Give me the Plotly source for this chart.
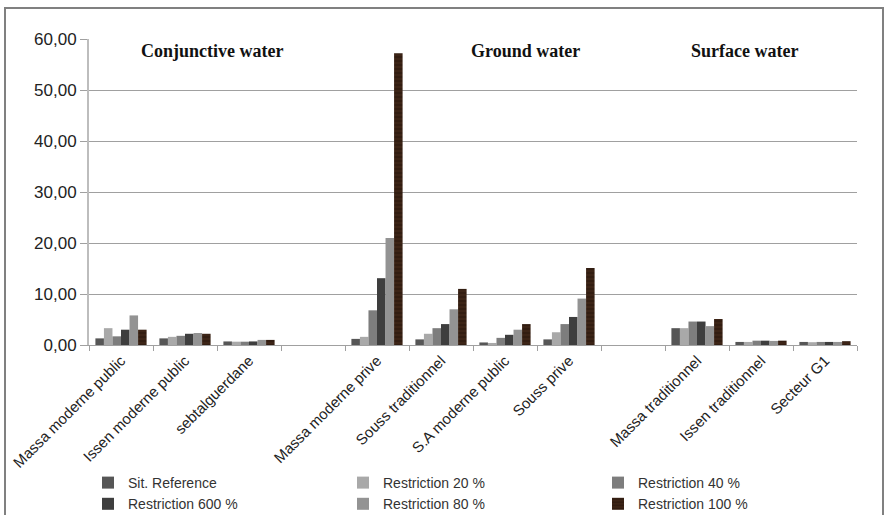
import plotly.graph_objects as go

categories = ["Massa moderne public", "Issen moderne public", "sebtalguerdane", " ",
              "Massa moderne prive", "Souss traditionnel", "S.A moderne public", "Souss prive", "  ",
              "Massa traditionnel", "Issen traditionnel", "Secteur G1"]

series_names = ["Sit. Reference", "Restriction 20 %", "Restriction 40 %",
                "Restriction 600 %", "Restriction 80 %", "Restriction 100 %"]

sit_reference = [1.3, 1.3, 0.7, None, 1.2, 1.1, 0.5, 1.1, None, 3.3, 0.6, 0.6]
restriction_20 = [3.3, 1.6, 0.65, None, 1.6, 2.2, 0.4, 2.5, None, 3.3, 0.6, 0.55]
restriction_40 = [1.7, 1.8, 0.65, None, 6.8, 3.3, 1.4, 4.1, None, 4.6, 0.85, 0.6]
restriction_600 = [3.0, 2.2, 0.7, None, 13.1, 4.1, 2.0, 5.5, None, 4.6, 0.85, 0.6]
restriction_80 = [5.8, 2.35, 1.0, None, 21.0, 7.0, 3.0, 9.1, None, 3.7, 0.8, 0.6]
restriction_100 = [3.0, 2.2, 1.0, None, 57.2, 11.0, 4.1, 15.1, None, 5.1, 0.85, 0.75]

section_titles = ["Conjunctive water", "Ground water", "Surface water"]
y_ticks = [0, 10, 20, 30, 40, 50, 60]

values = [sit_reference, restriction_20, restriction_40, restriction_600, restriction_80, restriction_100]
colors = ["#565656", "#a9a9a9", "#7d7d7d", "#3e3e3e", "#939393", "#3c2416"]

# plot-area geometry in pixels
FW, FH = 885, 515
L, R, T, B = 89, 857, 39, 345
W, H = R - L, B - T

def px(x):
    return (x - L) / W

def py(y):
    return (B - y) / H

fig = go.Figure()
for name, vals, col in zip(series_names, values, colors):
    marker = dict(color=col, line=dict(width=0))
    if name == "Restriction 100 %":
        marker["pattern"] = dict(shape="-", fgcolor="#1f1008", bgcolor=col, size=4, solidity=0.35)
    fig.add_trace(go.Bar(name=name, x=categories, y=vals, marker=marker))

fig.update_layout(
    width=FW, height=FH,
    margin=dict(l=L, r=FW - R, t=T, b=FH - B, autoexpand=False),
    paper_bgcolor="white", plot_bgcolor="white",
    barmode="group", bargap=0.2, bargroupgap=0,
    separators=", ",
    font=dict(family="Liberation Sans, Arial, sans-serif", color="#222"),
    showlegend=True,
    legend=dict(orientation="h", xref="container", yref="container",
                x=88 / FW, xanchor="left", y=1 - 467 / FH, yanchor="top",
                font=dict(size=14, color="#333"), entrywidth=210, entrywidthmode="pixels",
                traceorder="normal", bgcolor="rgba(0,0,0,0)", itemclick=False),
)

fig.update_yaxes(range=[0, 60], tickvals=y_ticks, tickformat=".2f", automargin=False,
                 showgrid=True, gridcolor="#a0a0a0", gridwidth=1.3,
                 showline=True, linecolor="#bdbdbd", linewidth=2,
                 ticks="outside", ticklen=7, tickcolor="#a0a0a0", tickwidth=1.3,
                 tickfont=dict(size=17, color="#222"), zeroline=False)
fig.update_xaxes(type="category", tickangle=-45, tickson="boundaries", automargin=False,
                 ticks="outside", ticklen=5, tickcolor="#a0a0a0",
                 showline=True, linecolor="#a0a0a0", linewidth=1.3,
                 tickfont=dict(size=15, color="#222"), showgrid=False)

# white masks breaking the top gridline behind section titles
gaps = [(138, 285), (453, 598), (675, 807)]
for x0, x1 in gaps:
    fig.add_shape(type="rect", xref="paper", yref="paper",
                  x0=px(x0), x1=px(x1), y0=py(44), y1=py(34),
                  fillcolor="white", line=dict(width=0), layer="above")

title_x = [212, 525.5, 744.5]
for t, cx in zip(section_titles, title_x):
    fig.add_annotation(text="<b>%s</b>" % t, xref="paper", yref="paper",
                       x=px(cx), y=py(51), xanchor="center", yanchor="middle",
                       showarrow=False,
                       font=dict(family="Liberation Serif, Times New Roman, serif", size=18, color="#111"))

# outer frame
fig.add_shape(type="rect", xref="paper", yref="paper",
              x0=px(5), x1=px(883), y0=py(530), y1=py(8),
              line=dict(color="#808080", width=2), fillcolor="rgba(0,0,0,0)", layer="above")

fig.write_html("out.html", config={"displayModeBar": False},
               post_script="document.body.style.margin='0';document.body.style.overflow='hidden';")
